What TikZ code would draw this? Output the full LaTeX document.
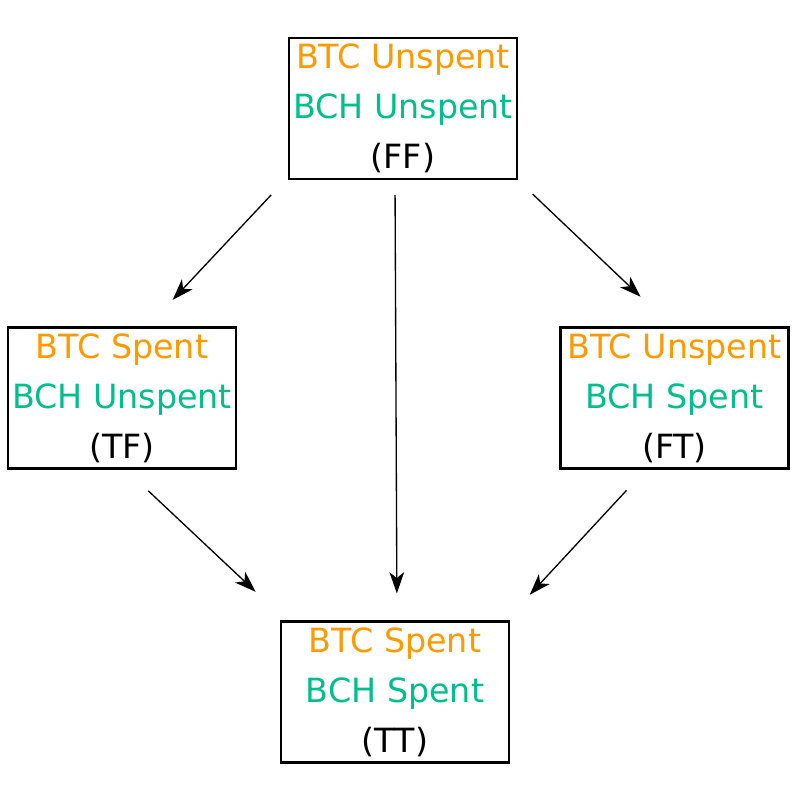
\documentclass[tikz,border=0pt]{standalone}
\usepackage{fontspec}
\setmainfont{DejaVu Sans}
\usetikzlibrary{arrows.meta,calc}

\definecolor{btcorange}{RGB}{255,153,0}
\definecolor{bchgreen}{RGB}{0,191,140}

\tikzset{every picture/.style={line width=0.75pt}}
\tikzset{
  state/.style={draw, line width=1.8pt, minimum width=171pt, minimum height=106pt,
                inner sep=0pt, align=center, font=\fontsize{25}{37.5}\selectfont},
  trans/.style={-{Stealth[length=16pt,width=11pt,inset=4.5pt]}, line width=1pt},
}

\begin{document}
\begin{tikzpicture}[x=0.75pt, y=0.75pt, yscale=-1,xscale=1]

    \useasboundingbox (0,0) rectangle (800,800);

    % states
    \node [state] (ff) at (403,108.5) {\textcolor{btcorange}{BTC Unspent}\\ \textcolor{bchgreen}{BCH Unspent}\\ (FF)};
    \node [state] (tf) at (122,398)   {\textcolor{btcorange}{BTC Spent}\\ \textcolor{bchgreen}{BCH Unspent}\\ (TF)};
    \node [state] (ft) at (674.5,398) {\textcolor{btcorange}{BTC Unspent}\\ \textcolor{bchgreen}{BCH Spent}\\ (FT)};
    \node [state] (tt) at (395,692)   {\textcolor{btcorange}{BTC Spent}\\ \textcolor{bchgreen}{BCH Spent}\\ (TT)};

    % transitions
    \draw [trans, shorten <=15pt, shorten >=27pt] ($(ff.south west)+(-3,0)$) -- ($(tf.north)+(26,0)$);
    \draw [trans, shorten <=11pt, shorten >=20pt] ($(ff.south)+(-8,0)$) -- ($(tt.north)+(2,0)$);
    \draw [trans, shorten <=15pt, shorten >=32pt] (ff.south east) -- ($(ft.north)+(-3,0)$);

    \draw [trans, shorten <=23pt, shorten >=31pt] ($(tf.south)+(4,0)$) -- ($(tt.north west)+(6,0)$);
    \draw [trans, shorten <=21pt, shorten >=26pt] ($(ft.south)+(-29,0)$) -- ($(tt.north east)+(-4,0)$);

\end{tikzpicture}
\end{document}
